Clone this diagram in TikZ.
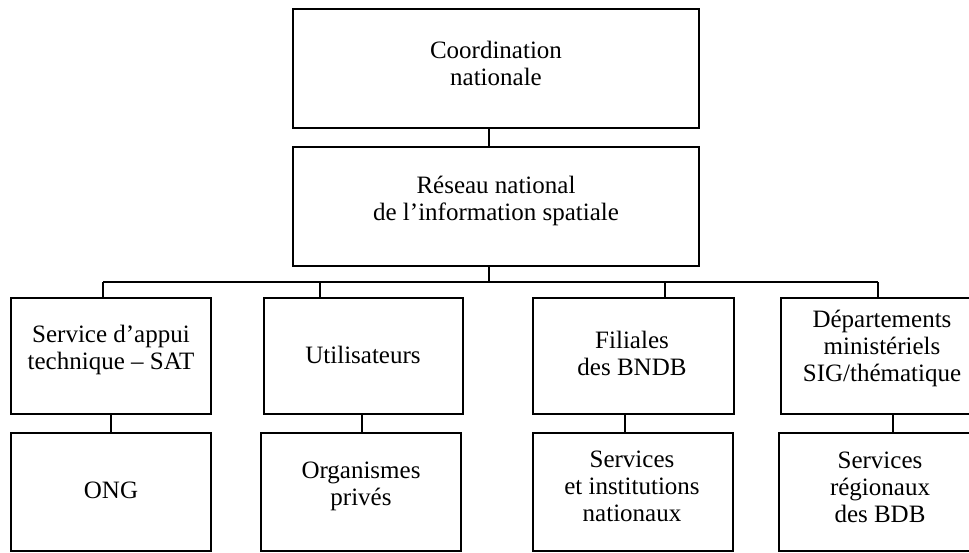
\documentclass[tikz,border=0pt]{standalone}
\usepackage{fontspec}
\setmainfont{Liberation Serif}
\begin{document}
\begin{tikzpicture}[x=0.5pt,y=-0.5pt,
  box/.style={draw,line width=0.9pt,rectangle,inner sep=0pt},
  lbl/.style={align=center,inner sep=0pt,font=\fontsize{12.5}{13.5}\selectfont},
  conn/.style={line width=0.9pt}]
\useasboundingbox (0,0) rectangle (969,552);
\clip (0,0) rectangle (969,552);
% boxes (centre, size)
\node[box,minimum width=203pt,minimum height=59.5pt] (top) at (496,68.5) {};
\node[box,minimum width=203pt,minimum height=59.5pt] (res) at (496,206.5) {};
\node[box,minimum width=100pt,minimum height=58pt] (b1) at (111,356) {};
\node[box,minimum width=99.5pt,minimum height=58pt] (b2) at (363.5,356) {};
\node[box,minimum width=100.5pt,minimum height=58pt] (b3) at (633.5,356) {};
\node[box,minimum width=101pt,minimum height=58pt] (b4) at (882,356) {};
\node[box,minimum width=100pt,minimum height=59pt] (l1) at (111,492) {};
\node[box,minimum width=100pt,minimum height=59pt] (l2) at (361,492) {};
\node[box,minimum width=100pt,minimum height=59pt] (l3) at (633,492) {};
\node[box,minimum width=102pt,minimum height=59pt] (l4) at (881,492) {};
% texts
\node[lbl] (ttop) at (496,63) {Coordination\\nationale};
\node[lbl] (tres) at (496,201) {Réseau national\\de l’information spatiale};
\node[lbl] (tb1) at (111,350) {Service d’appui\\technique – SAT};
\node[lbl] (tb2) at (363,355) {Utilisateurs};
\node[lbl] (tb3) at (632,353) {Filiales\\des BNDB};
\node[lbl] (tb4) at (882,348) {Départements\\ministériels\\SIG/thématique};
\node[lbl] (tl1) at (111,490) {ONG};
\node[lbl] (tl2) at (361,486) {Organismes\\privés};
\node[lbl] (tl3) at (632,486) {Services\\et institutions\\nationaux};
\node[lbl] (tl4) at (880,487) {Services\\régionaux\\des BDB};
% connectors
\coordinate (stem) at (489,282);
\coordinate (d1) at (103,282);
\coordinate (d2) at (320,282);
\coordinate (d3) at (665,282);
\coordinate (d4) at (878,282);
\draw[conn] (top.south -| stem) -- (res.north -| stem);
\draw[conn] (res.south -| stem) -- (stem);
\draw[conn] (d1) -- (d4);
\draw[conn] (d1) -- (d1 |- b1.north);
\draw[conn] (d2) -- (d2 |- b2.north);
\draw[conn] (d3) -- (d3 |- b3.north);
\draw[conn] (d4) -- (d4 |- b4.north);
\coordinate (e1) at (111,423);
\coordinate (e2) at (362,423);
\coordinate (e3) at (625,423);
\coordinate (e4) at (893,423);
\draw[conn] (e1 |- b1.south) -- (e1 |- l1.north);
\draw[conn] (e2 |- b2.south) -- (e2 |- l2.north);
\draw[conn] (e3 |- b3.south) -- (e3 |- l3.north);
\draw[conn] (e4 |- b4.south) -- (e4 |- l4.north);
\end{tikzpicture}
\end{document}
